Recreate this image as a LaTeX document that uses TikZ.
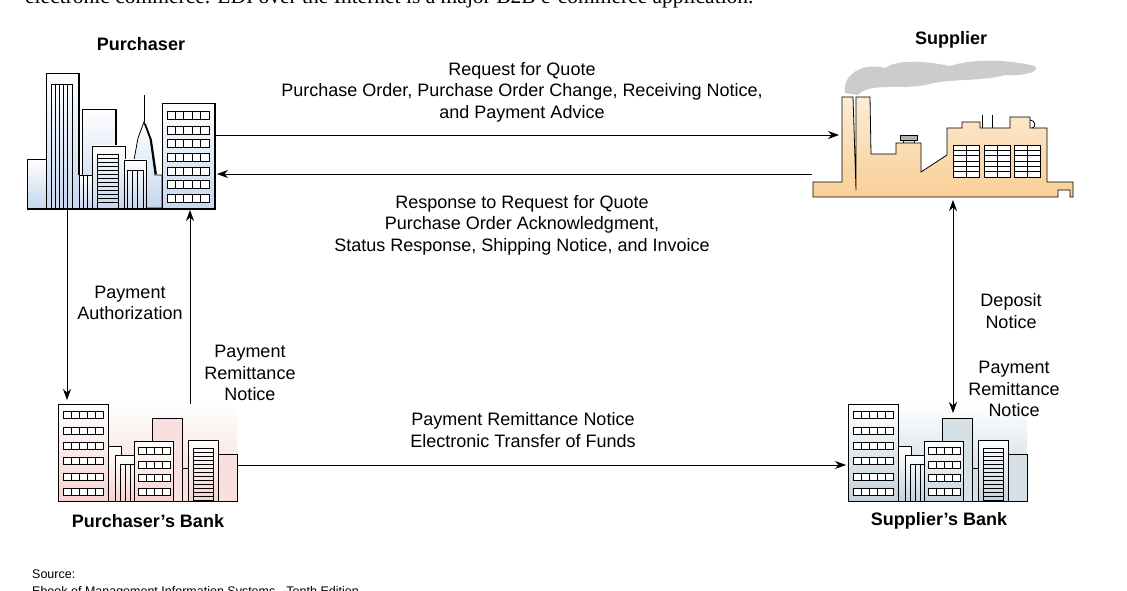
\documentclass[tikz,border=0pt]{standalone}
\usepackage{fontspec}
\setmainfont{Liberation Sans}
\newfontfamily\serifed{Liberation Serif}
\usetikzlibrary{arrows.meta}
\newcommand\winrow[5]{\foreach \ii in {1,...,#3}{\draw[fill=white] ({#1+(\ii-1)*#4},#2) rectangle ++(#4,#5);}}
\newcommand\bankicon[3]{%
\begin{scope}[shift={(#1,0)},every path/.style={line width=0.8pt},fill=#3!45]
 \shade[bottom color=#2,top color=white] (58,404) rectangle (237,501);
 \draw[fill=#2!70] (218,454) rectangle (237,501);
 \draw[fill=#2!70] (152,418) rectangle (182,501);
 \draw[fill=#2!70] (182,468) rectangle (188,501);
 \draw[top color=white,bottom color=#2] (188,440) rectangle (218,501);
 \foreach \k in {0,...,12}{\draw (193,448+\k*4) -- (213,448+\k*4);}
 \draw (193,448) rectangle (213,500);
 \draw[top color=white,bottom color=#2] (108,446) rectangle (121,501);
 \draw[top color=white,bottom color=#2] (115,455) rectangle (134,501);
 \foreach \k in {120,125,130}{\draw (\k,464) -- (\k,501);}
 \draw (120,464) -- (134,464);
 \draw[top color=white,bottom color=#2] (134,441) rectangle (173,501);
 \foreach \yy in {447,461,474,488}{\winrow{138}{\yy}{4}{8}{7}}
 \draw[top color=white,bottom color=#2] (58,404) rectangle (108,501);
 \foreach \yy in {411,427,442,457,473,488}{\winrow{63}{\yy}{5}{8}{7}}
 \draw (58,501) -- (237,501);
\end{scope}}
\definecolor{pinkb}{HTML}{F6D2CE}
\definecolor{blueb}{HTML}{C3D1DC}
\definecolor{cityb}{HTML}{C6D6EE}
\definecolor{fact}{HTML}{F9CF96}
\tikzset{arr/.style={line width=0.8pt,-{Stealth[length=11pt,width=8pt]}},
 lbl/.style={align=center,font=\fontsize{18}{21.5}\selectfont,inner sep=0pt},
 ttl/.style={font=\fontsize{18}{21}\selectfont\bfseries,inner sep=0pt}}
\begin{document}
\begin{tikzpicture}[x=1pt,y=-1pt]
\useasboundingbox (0,0) rectangle (1127,591);
\clip (0,0) rectangle (1127,591);
\fill[white] (0,0) rectangle (1127,591);
\node[anchor=base west,inner sep=0pt,font=\serifed\fontsize{21.5}{24}\selectfont] (cap) at (25,4) {electronic commerce. EDI over the Internet is a major B2B e-commerce application.};
% purchaser city
\begin{scope}[line width=0.8pt]
 \draw[top color=white,bottom color=cityb] (27,159) rectangle (46,208);
 \draw[top color=white,bottom color=cityb] (82,109) rectangle (116,208);
 \draw[line width=2.2pt] (116,110) -- (116,160);
 \draw[top color=white,bottom color=cityb] (134,160) -- (138,138) -- (144,122) -- (150,138) -- (155,175) -- (162,175) -- (162,208) -- (134,208) -- cycle;
 \draw (144,122) -- (144,95);
 \draw[line width=1.8pt] (145,124) -- (151,140) -- (156,174);
 \draw[top color=white,bottom color=cityb] (46,73) rectangle (79,208);
 \draw[line width=2.2pt] (79,74) -- (79,175);
 \draw (51,84) rectangle (72,208);
 \foreach \k in {55,59,63,67}{\draw (\k,84) -- (\k,208);}
 \draw[top color=white,bottom color=cityb] (79,175) rectangle (92,208);
 \foreach \k in {83,87}{\draw (\k,175) -- (\k,208);}
 \draw[top color=white,bottom color=cityb] (92,146) rectangle (125,208);
 \draw (97,154) rectangle (118,208);
 \foreach \k in {0,...,12}{\draw (97,154+\k*4) -- (118,154+\k*4);}
 \draw[top color=white,bottom color=cityb] (124,160) rectangle (146,208);
 \draw (127,170) rectangle (143,208);
 \foreach \k in {132,137}{\draw (\k,170) -- (\k,208);}
 \draw[top color=white,bottom color=cityb] (162,103) rectangle (215,208);
 \draw[line width=2.2pt] (215,104) -- (215,209);
 \foreach \yy in {111,126,139,153,167,180,194}{\winrow{167}{\yy}{5}{8.4}{8}}
 \draw[line width=2.5pt] (27,209) -- (216,209);
 \node[inner sep=0pt] (pur) at (121,140) {};
\end{scope}
% factory
\fill[gray!40] (845,93) .. controls (842,75) and (862,62) .. (885,68) .. controls (900,58) and (930,62) .. (950,66) .. controls (975,58) and (1010,60) .. (1035,66) .. controls (1040,72) and (1025,76) .. (1005,75) .. controls (980,82) and (950,78) .. (925,85) .. controls (900,90) and (870,82) .. (858,95) -- cycle;
\begin{scope}[line width=0.8pt]
 \draw[fill=gray!60] (900,135) rectangle (917,140);
 \draw[fill=fact!70] (903,140) rectangle (914,143);
 \draw[top color=fact!40,bottom color=fact] (813,182) -- (842,182) -- (842,97) -- (853,97) -- (856,190) -- (856,97) -- (870,97) -- (871,154) -- (896,154) -- (896,143) -- (921,143) -- (921,172) -- (947,155) -- (947,128) -- (962,128) -- (962,122) -- (980,122) -- (980,128) -- (1010,128) -- (1010,117) -- (1030,117) -- (1030,128) -- (1047,128) -- (1047,182) -- (1073,182) -- (1073,197) -- (1070,197) -- (1070,190) -- (1058,190) -- (1058,197) -- (813,197) -- cycle;
 \draw (982,115) -- (982,128) (992,115) -- (992,128);
 \draw (1030,120) .. controls (1036,120) and (1036,128) .. (1032,128);
 \foreach \xx in {953,984,1014}{
  \draw[fill=white] (\xx,145) rectangle ++(26,32);
  \foreach \k in {1,...,5}{\draw (\xx,145+\k*5.3) -- ++(26,0);}
  \draw (\xx+13,145) -- ++(0,32);}
 \node[inner sep=0pt] (sup) at (943,150) {};
\end{scope}
% banks
\bankicon{0}{pinkb}{pinkb}
\bankicon{790}{blueb}{blueb}
% titles
\node[ttl] (tp) at (141,44) {Purchaser};
\node[ttl] (ts) at (951,40) {Supplier};
\node[ttl] (tpb) at (148,521) {Purchaser’s Bank};
\node[ttl] (tsb) at (939,521) {Supplier’s Bank};
% connector endpoints
\coordinate (a1) at (215,135); \coordinate (a2) at (839,135);
\coordinate (b1) at (812,174); \coordinate (b2) at (217,174);
\coordinate (c1) at (67,210); \coordinate (c2) at (67,400);
\coordinate (d1) at (190,404); \coordinate (d2) at (190,210);
\coordinate (e1) at (237,465); \coordinate (e2) at (846,465);
\coordinate (f1) at (953,200); \coordinate (f2) at (953,413);
\draw[arr] (a1) -- (a2);
\draw[arr] (b1) -- (b2);
\draw[arr] (c1) -- (c2);
\draw[arr] (d1) -- (d2);
\draw[arr] (e1) -- (e2);
\draw[arr,{Stealth[length=11pt,width=8pt]}-{Stealth[length=11pt,width=8pt]}] (f1) -- (f2);
% labels
\node[lbl] (l1) at (522,92) {Request for Quote\\Purchase Order, Purchase Order Change, Receiving Notice,\\and Payment Advice};
\node[lbl] (l2) at (522,225) {Response to Request for Quote\\Purchase Order Acknowledgment,\\Status Response, Shipping Notice, and Invoice};
\node[lbl] (l3) at (130,303) {Payment\\Authorization};
\node[lbl] (l4) at (250,373) {Payment\\Remittance\\Notice};
\node[lbl] (l5) at (523,430) {Payment Remittance Notice\\Electronic Transfer of Funds};
\node[lbl] (l6) at (1011,311) {Deposit\\Notice};
\node[lbl] (l7) at (1014,389) {Payment\\Remittance\\Notice};
\node[anchor=base west,inner sep=0pt,align=left,font=\fontsize{12.5}{17}\selectfont] (src) at (32,595) {Source:\\Ebook of Management Information Systems - Tenth Edition};
\end{tikzpicture}
\end{document}
